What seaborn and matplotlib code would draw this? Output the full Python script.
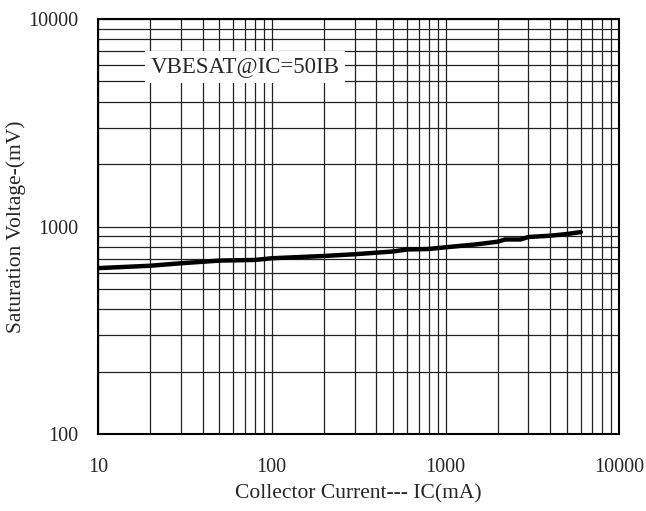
import numpy as np
import pandas as pd
import matplotlib
matplotlib.use("Agg")
import matplotlib.pyplot as plt
from matplotlib.ticker import LogLocator, FixedLocator, FixedFormatter, NullFormatter
import seaborn as sns

# data
collector_current = [10, 20, 30, 50, 80, 100, 200, 300, 400, 500, 600, 800,
                     1000, 1500, 2000, 2200, 2700, 3000, 4000, 5000, 6000]
vbe_sat = [630, 647, 665, 685, 690, 703, 721, 735, 748, 758, 775, 779,
           794, 820, 845, 866, 866, 890, 903, 920, 940]

x_ticks = [10, 100, 1000, 10000]
y_ticks = [100, 1000, 10000]
annotation = "VBESAT@IC=50IB"

df = pd.DataFrame({"ic": collector_current, "vbe": vbe_sat})

sns.set_style("white")
plt.rcParams["font.family"] = ["Liberation Serif", "DejaVu Serif"]

fig = plt.figure(figsize=(6.46, 5.11), dpi=100)
ax = fig.add_axes([0.1517, 0.1507, 0.807, 0.8121])

sns.lineplot(data=df, x="ic", y="vbe", ax=ax, color="black", linewidth=3.2)

ax.set_xscale("log")
ax.set_yscale("log")
ax.set_xlim(10, 10000)
ax.set_ylim(100, 10000)

# grid at every major and minor decade step
ax.xaxis.set_major_locator(FixedLocator(x_ticks))
ax.xaxis.set_major_formatter(FixedFormatter([str(v) for v in x_ticks]))
ax.yaxis.set_major_locator(FixedLocator(y_ticks))
ax.yaxis.set_major_formatter(FixedFormatter([str(v) for v in y_ticks]))
ax.xaxis.set_minor_locator(LogLocator(base=10, subs=np.arange(2, 10), numticks=20))
ax.yaxis.set_minor_locator(LogLocator(base=10, subs=np.arange(2, 10), numticks=20))
ax.xaxis.set_minor_formatter(NullFormatter())
ax.yaxis.set_minor_formatter(NullFormatter())
ax.grid(True, which="both", color="#222222", linewidth=0.9)
ax.set_axisbelow(True)

ax.tick_params(axis="both", which="both", length=0)
ax.tick_params(axis="x", labelsize=14.5, pad=17)
ax.tick_params(axis="y", labelsize=14.5, pad=14)

for side in ["left", "bottom", "top", "right"]:
    ax.spines[side].set_color("black")
    ax.spines[side].set_linewidth(1.5)

ax.set_xlabel("Collector Current--- IC(mA)", fontsize=15.5)
ax.set_ylabel("Saturation Voltage-(mV)", fontsize=15.5)
ax.xaxis.set_label_coords(0.5, -0.122)
ax.yaxis.set_label_coords(-0.138, 0.5)

ax.text(70, 5880, annotation, fontsize=16.5, ha="center", va="center",
        bbox=dict(facecolor="white", edgecolor="none", pad=4), zorder=5)

plt.savefig("out.png", dpi=100)
plt.close()
